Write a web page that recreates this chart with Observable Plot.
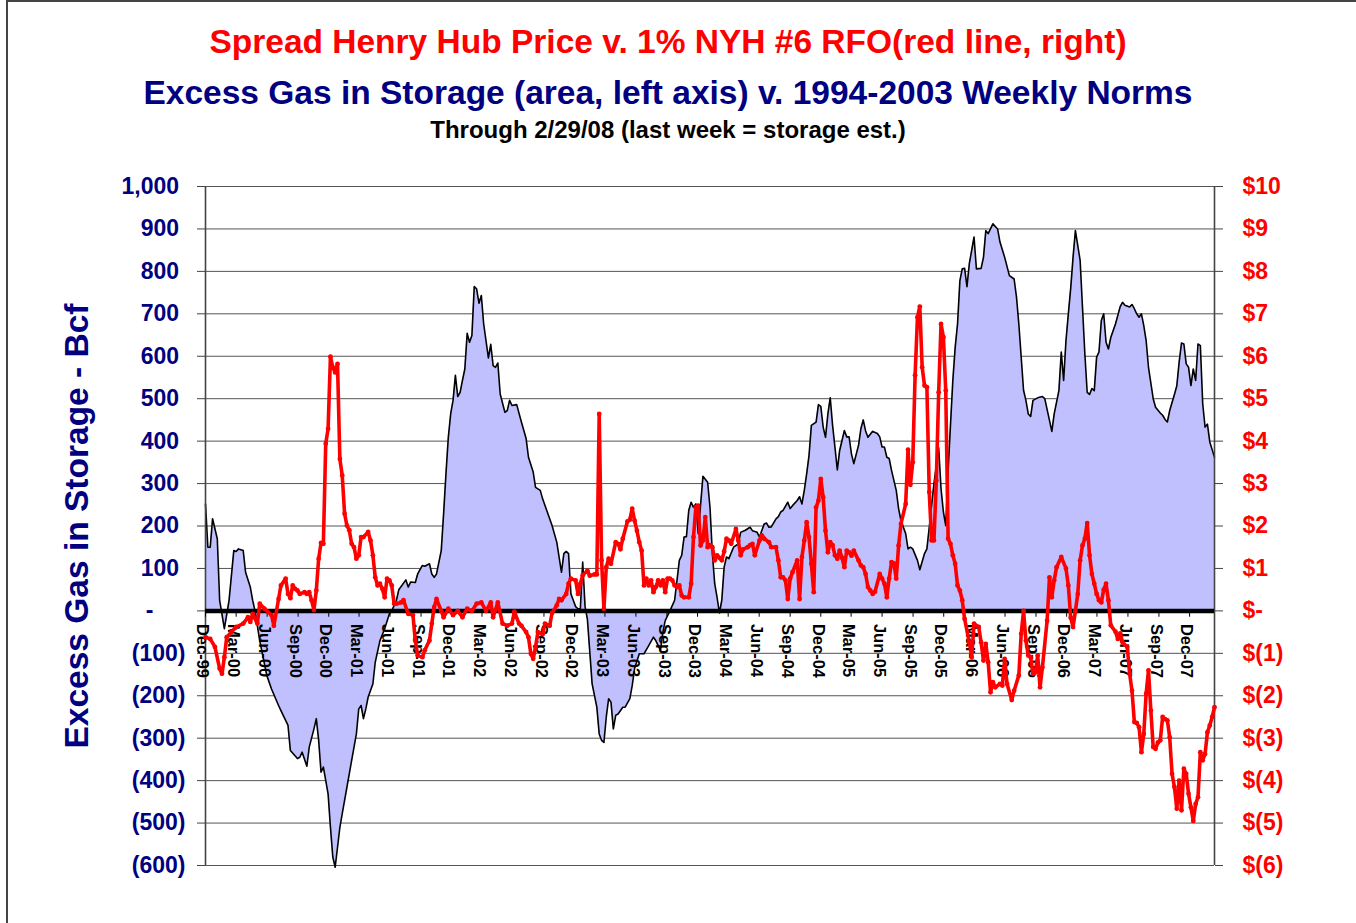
<!DOCTYPE html>
<html><head><meta charset="utf-8">
<script src="https://cdn.jsdelivr.net/npm/d3@7"></script>
<script src="https://cdn.jsdelivr.net/npm/@observablehq/plot@0.6"></script>
<style>
html,body{margin:0;padding:0;background:#fff;}
#wrap{position:relative;width:1356px;height:923px;overflow:hidden;font-family:"Liberation Sans",Arial,sans-serif;}
#frame{position:absolute;left:6px;top:0px;width:2000px;height:2000px;border-left:2px solid #444;border-top:2px solid #444;}
.t{position:absolute;left:0;width:1336px;text-align:center;font-weight:bold;line-height:1;white-space:nowrap;}
#chart{position:absolute;left:0;top:150px;}
</style></head>
<body><div id="wrap"><div id="frame"></div>
<div class="t" style="top:25px;font-size:33.5px;color:#ff0000">Spread Henry Hub Price v. 1% NYH #6 RFO(red line, right)</div>
<div class="t" style="top:76px;font-size:33.5px;color:#000080">Excess Gas in Storage (area, left axis) v. 1994-2003 Weekly Norms</div>
<div class="t" style="top:118px;font-size:24px;color:#000">Through 2/29/08 (last week = storage est.)</div>
<div id="chart"></div>
</div>
<script>
// weeks counted from the first weekly report (Dec-99)
const firstWeek = "1999-12-01";
const lastWeek = 428;

const storageWeeks = [0,1,2,3,5,6,8,10,12,13,14,16,17,19,20,21,23,26,28,31,32,35,36,39,40,41,43,44,46,47,48,49,50,52,53,54,55,56,57,58,60,62,64,65,66,67,68,69,71,72,74,76,78,79,81,82,85,86,87,89,90,92,93,95,96,97,98,100,101,102,103,104,105,106,107,108,109,110,111,112,113,114,115,116,117,118,120,121,122,123,124,125,127,128,129,130,132,134,136,137,139,140,142,143,146,147,149,151,152,153,154,155,156,157,158,159,160,161,162,164,166,167,168,169,170,171,172,173,174,175,177,178,180,181,182,184,186,188,190,191,193,194,195,197,199,201,202,203,204,205,206,207,208,209,211,213,214,215,216,217,218,219,220,221,222,224,226,227,229,231,232,234,235,237,238,239,240,242,243,244,245,247,248,249,251,252,253,254,255,256,257,259,260,261,262,263,264,265,266,267,268,269,271,272,273,274,275,277,278,279,280,281,283,285,286,287,288,289,290,291,293,294,295,297,298,299,300,302,303,305,306,307,309,311,312,313,314,315,317,318,319,320,321,322,323,324,326,327,329,330,331,332,334,336,337,339,341,343,344,345,346,347,348,349,350,351,353,355,356,358,359,360,362,363,364,365,366,367,368,369,371,372,373,374,375,376,377,378,379,380,381,382,383,384,386,388,389,390,392,393,394,395,396,397,398,399,400,402,403,405,406,407,408,409,411,412,413,414,415,416,417,418,419,420,421,422,423,424,425,426,427,428];
const storageBcf = [252,150,150,217,170,25,-42,25,142,140,146,142,91,56,25,0,-70,-152,-184,-223,-235,-270,-329,-348,-345,-333,-366,-321,-278,-254,-305,-380,-368,-431,-510,-580,-604,-557,-510,-478,-415,-352,-290,-231,-223,-254,-231,-203,-172,-121,-70,-42,-7,0,25,50,73,56,68,67,87,107,105,111,87,79,87,142,229,323,409,464,496,555,505,515,543,570,654,633,649,764,759,725,743,676,596,628,578,574,584,511,468,472,496,484,486,445,406,362,327,291,284,264,217,201,162,91,135,140,135,40,25,10,5,5,115,10,-20,-172,-227,-290,-305,-310,-250,-207,-215,-278,-246,-243,-227,-227,-207,-176,-136,-101,-101,-82,-62,-70,-93,-50,-23,0,25,119,131,174,175,237,256,244,252,182,317,303,244,135,64,32,-5,25,103,127,123,150,158,185,190,197,189,185,174,205,207,197,198,217,222,233,237,256,241,248,260,269,252,284,323,366,437,445,486,482,433,409,464,502,437,386,332,378,425,410,410,370,347,390,429,450,424,409,423,418,410,386,386,362,359,331,284,241,213,182,146,150,146,119,97,135,146,197,300,384,288,233,201,331,543,621,676,778,806,807,764,818,881,806,807,833,896,889,912,900,869,833,790,782,740,676,598,520,496,464,458,496,502,505,500,449,423,464,519,610,543,637,700,760,833,896,826,716,606,515,510,524,519,598,610,684,700,633,617,644,676,717,727,720,716,722,712,700,692,700,672,637,574,500,480,466,461,451,445,472,510,530,586,631,629,582,574,531,570,543,629,625,488,433,440,398,380,362];

const spreadWeeks = [0,2,4,6,7,8,9,11,13,16,18,19,20,22,23,25,28,29,31,32,34,35,36,37,38,39,40,42,43,44,45,46,47,48,49,50,51,52,53,54,55,56,57,58,59,60,61,62,63,64,65,66,67,69,70,71,72,73,74,75,76,77,78,79,80,81,83,84,86,88,89,90,92,93,95,96,97,98,100,101,103,105,107,109,111,113,115,117,119,121,122,124,126,128,130,131,133,134,136,137,138,139,140,141,143,144,146,147,149,150,151,153,154,155,157,158,159,160,162,163,165,166,167,168,169,170,171,172,174,175,176,177,179,180,181,182,183,184,185,186,187,188,189,190,191,192,193,194,195,196,197,198,199,200,201,202,203,205,206,207,208,209,210,211,212,213,214,215,216,217,218,219,220,221,222,223,225,226,227,228,230,231,232,233,235,236,237,239,240,242,243,244,245,246,247,248,249,251,252,253,254,255,256,257,258,259,260,261,262,263,264,265,266,267,268,269,270,271,272,273,274,275,277,278,279,280,281,282,283,284,286,287,288,289,290,291,292,293,294,295,297,298,299,300,301,302,303,304,305,306,307,308,309,310,311,312,313,314,315,316,317,318,319,320,321,322,324,325,326,328,329,330,331,332,333,334,335,337,338,339,340,342,343,345,346,347,348,349,350,351,352,353,354,355,357,358,359,360,361,363,365,366,367,368,369,370,371,372,373,374,375,376,377,378,379,380,381,382,383,384,386,387,388,389,391,392,393,394,395,396,397,398,399,400,401,402,403,404,405,406,407,408,409,410,411,412,413,414,415,416,417,418,419,420,421,422,423,424,425,426,427,428];
const spreadUsd = [-0.62,-0.66,-0.85,-1.36,-1.48,-1.09,-0.62,-0.50,-0.38,-0.30,-0.15,-0.26,-0.07,-0.30,0.17,0.05,-0.10,-0.35,0.28,0.60,0.76,0.40,0.30,0.60,0.52,0.48,0.40,0.44,0.40,0.44,0.25,0.02,0.48,1.23,1.60,1.58,3.94,4.29,5.99,5.74,5.62,5.82,3.58,3.19,2.29,2.01,1.90,1.58,1.50,1.23,1.31,1.74,1.74,1.86,1.66,1.31,0.79,0.60,0.64,0.52,0.32,0.76,0.72,0.60,0.17,0.17,0.20,0.25,-0.07,-0.10,-0.70,-1.05,-1.09,-0.93,-0.70,-0.30,0.09,0.28,0.00,-0.15,0.05,-0.10,0.00,-0.15,0.05,0.00,0.17,0.20,0.00,0.20,-0.15,0.20,-0.30,-0.35,-0.30,-0.02,-0.30,-0.35,-0.50,-0.62,-1.01,-1.13,-0.85,-0.50,-0.55,-0.30,-0.35,-0.05,0.13,0.28,0.25,0.40,0.64,0.76,0.72,0.40,0.64,0.84,0.95,0.83,0.86,0.86,4.64,1.19,0.05,1.03,1.23,1.11,1.62,1.58,1.45,1.70,2.11,2.15,2.41,2.13,1.89,1.62,1.42,0.60,0.76,0.60,0.72,0.44,0.56,0.72,0.60,0.72,0.44,0.76,0.76,0.72,0.60,0.56,0.60,0.36,0.32,0.32,0.64,1.74,2.44,2.48,1.54,1.66,2.21,1.50,1.55,1.50,1.19,1.31,1.25,1.19,1.40,1.70,1.66,1.58,1.93,1.66,1.31,1.45,1.50,1.55,1.58,1.31,1.66,1.78,1.70,1.62,1.50,1.50,1.19,0.79,0.79,0.72,0.28,0.76,0.91,1.19,0.28,1.27,1.66,2.09,1.74,1.11,0.44,2.44,2.60,3.11,2.68,1.89,1.38,1.62,1.55,1.31,1.23,1.42,1.25,1.03,1.42,1.38,1.30,1.42,1.19,1.07,1.03,0.87,0.56,0.48,0.40,0.45,0.87,0.76,0.64,0.32,0.76,1.15,1.12,0.76,1.54,2.05,2.52,3.80,2.97,3.50,5.55,6.92,7.17,5.74,5.31,5.27,2.80,1.66,1.66,3.07,5.15,6.76,6.45,5.19,1.70,1.58,1.31,1.11,0.60,0.48,0.25,-0.19,-0.74,-1.09,-0.30,-0.38,-0.74,-1.17,-0.78,-1.21,-1.92,-1.68,-1.80,-1.72,-1.76,-1.13,-1.72,-2.10,-1.88,-1.52,-0.54,0.00,-0.70,-1.05,-1.09,-1.48,-1.45,-1.05,-1.80,-1.33,-0.23,0.79,0.32,0.72,1.03,1.27,1.00,0.60,-0.16,-0.38,0.00,0.40,1.19,1.54,1.70,2.07,1.31,0.87,0.64,0.40,0.25,0.20,0.50,0.64,0.25,-0.34,-0.49,-0.66,-0.53,-0.74,-0.85,-1.48,-1.88,-2.62,-2.64,-2.74,-3.33,-2.90,-1.95,-1.40,-2.35,-3.21,-3.25,-3.10,-3.05,-2.50,-2.55,-2.58,-2.98,-3.84,-4.15,-4.66,-4.00,-4.70,-3.72,-3.84,-4.31,-4.63,-4.95,-4.55,-4.39,-3.33,-3.52,-3.37,-2.86,-2.70,-2.50,-2.27];

const tickLabels = ["Dec-99","Mar-00","Jun-00","Sep-00","Dec-00","Mar-01","Jun-01","Sep-01","Dec-01","Mar-02","Jun-02","Sep-02","Dec-02","Mar-03","Jun-03","Sep-03","Dec-03","Mar-04","Jun-04","Sep-04","Dec-04","Mar-05","Jun-05","Sep-05","Dec-05","Mar-06","Jun-06","Sep-06","Dec-06","Mar-07","Jun-07","Sep-07","Dec-07"];
const bcfTicks = [-600,-500,-400,-300,-200,-100,0,100,200,300,400,500,600,700,800,900,1000];
const yTitle = "Excess Gas in Storage - Bcf";

// --- build tables ---
const start = d3.utcParse("%Y-%m-%d")(firstWeek);
const weekDate = w => d3.utcDay.offset(start, 7 * w);
const end = weekDate(lastWeek);
const storage = storageWeeks.map((w, i) => ({date: weekDate(w), bcf: storageBcf[i]}));
// $1 on the right axis lines up with 100 Bcf on the left axis
const spread = spreadWeeks.map((w, i) => ({date: weekDate(w), usd: spreadUsd[i], y: spreadUsd[i] * 100}));
const parseTick = d3.utcParse("%b-%y");
const xTicks = tickLabels.map(l => ({label: l, date: parseTick(l)}));

const fmtComma = d3.format(",");
const leftFmt = v => v === 0 ? "-\u2007\u2007\u00A0" : v < 0 ? `(${fmtComma(-v)})` : fmtComma(v) + "\u00A0";
const rightFmt = v => v === 0 ? "$-" : v < 0 ? `$(${-v / 100})` : `$${v / 100}`;

const chart = Plot.plot({
  width: 1356,
  height: 773,
  marginLeft: 205,
  marginRight: 142,
  marginTop: 36,
  marginBottom: 58,
  style: {fontFamily: "'Liberation Sans', Arial, sans-serif", background: "transparent", overflow: "visible"},
  x: {type: "utc", domain: [start, end], axis: null},
  y: {domain: [-600, 1000], axis: null},
  marks: [
    Plot.ruleY(bcfTicks, {stroke: "#555", strokeWidth: 1}),
    Plot.areaY(storage, {x: "date", y: "bcf", fill: "#C0C0FF"}),
    Plot.lineY(storage, {x: "date", y: "bcf", stroke: "#000", strokeWidth: 1.6}),
    Plot.ruleX([start, end], {y1: -600, y2: 1000, stroke: "#444", strokeWidth: 1.6}),
    Plot.axisY({anchor: "left", ticks: bcfTicks, tickSize: 8, tickPadding: 12, tickFormat: leftFmt,
      fill: "#000080", stroke: "#444", fontSize: 23, fontWeight: "bold", label: null}),
    Plot.axisY({anchor: "right", ticks: bcfTicks, tickSize: 8, tickPadding: 20, tickFormat: rightFmt,
      fill: "#ff0000", stroke: "#444", fontSize: 23, fontWeight: "bold", label: null}),
    Plot.ruleY([0], {stroke: "#000", strokeWidth: 4.5}),
    Plot.ruleX(xTicks, {x: "date", y1: 0, y2: -15, stroke: "#000", strokeWidth: 1}),
    Plot.text(xTicks, {x: "date", y: () => 0, text: "label", rotate: 90, textAnchor: "start", lineAnchor: "middle",
      dx: -3, dy: 13, fontSize: 16.5, fontWeight: "bold", fill: "#000"}),
    Plot.line(spread, {x: "date", y: "y", stroke: "#ff0000", strokeWidth: 3.6}),
    Plot.dot(spread, {x: "date", y: "y", r: 2.4, fill: "#ff0000", stroke: "none"}),
    Plot.text([yTitle], {frameAnchor: "left", text: d => d, rotate: -90, dx: -128, textAnchor: "middle", lineAnchor: "middle",
      fontSize: 33.5, fontWeight: "bold", fill: "#000080"})
  ]
});
document.getElementById("chart").appendChild(chart);
</script>
</body></html>
